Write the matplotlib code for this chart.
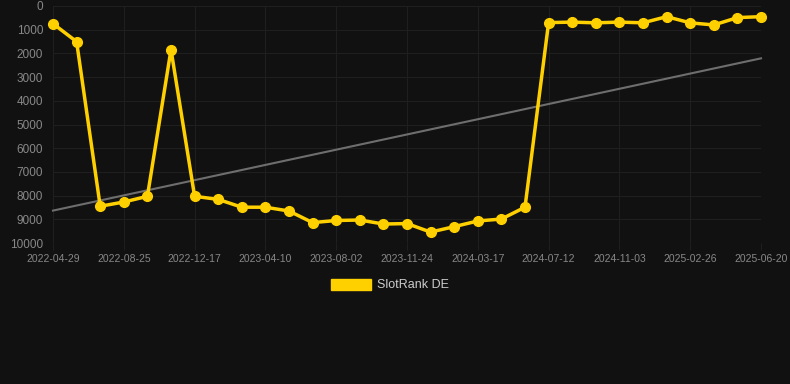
import numpy as np
import matplotlib
matplotlib.use("Agg")
import matplotlib.pyplot as plt
from matplotlib.patches import Patch

plt.rcParams['font.family'] = ['Liberation Sans', 'DejaVu Sans']

tick_labels = ["2022-04-29", "2022-08-25", "2022-12-17", "2023-04-10", "2023-08-02",
               "2023-11-24", "2024-03-17", "2024-07-12", "2024-11-03", "2025-02-26",
               "2025-06-20"]
ranks = [745, 1505, 8450, 8270, 8030, 1840, 8030, 8160, 8490, 8490,
         8650, 9140, 9050, 9030, 9200, 9180, 9540, 9310, 9070, 8990,
         8490, 700, 680, 710, 680, 710, 450, 710, 800, 490, 450]
series_name = "SlotRank DE"

BG = "#111111"
YEL = "#FFD000"
GRID = "#1f1f1f"
TXT = "#888888"

fig = plt.figure(figsize=(7.9, 3.84), dpi=100, facecolor=BG)
ax = fig.add_axes([53/790, 1-243/384, (761-53)/790, (243-6)/384], facecolor=BG)

x = np.arange(len(ranks))
coef = np.polyfit(x, ranks, 1)
ax.plot([x[0], x[-1]], np.polyval(coef, [x[0], x[-1]]), color="#6e6e6e", lw=1.5, zorder=2)
ax.plot(x, ranks, color=YEL, lw=2.5, marker="o", ms=7, zorder=3, solid_joinstyle="miter")

ax.set_xlim(0, len(ranks) - 1)
ax.set_ylim(10000, 0)
ax.set_yticks(np.arange(0, 10001, 1000))
ax.set_xticks(np.arange(0, len(ranks), 3))
ax.set_xticklabels(tick_labels)
ax.grid(True, color=GRID, lw=0.8, zorder=0)
for s in ax.spines.values():
    s.set_visible(False)
ax.tick_params(axis="x", colors=GRID, length=5, width=0.8, labelcolor=TXT, labelsize=7.5, pad=3)
ax.tick_params(axis="y", length=0, labelcolor=TXT, labelsize=8.5, pad=7)
for ln in ax.lines:
    ln.set_clip_on(False)

leg = fig.legend(handles=[Patch(facecolor=YEL, edgecolor=YEL)], labels=[series_name],
                 loc="center", bbox_to_anchor=(390/790, 1-285/384), frameon=False,
                 handlelength=3.2, handleheight=1.0, fontsize=9, labelcolor="#cccccc",
                 handletextpad=0.5)

fig.savefig("out.png", dpi=100, facecolor=BG)
